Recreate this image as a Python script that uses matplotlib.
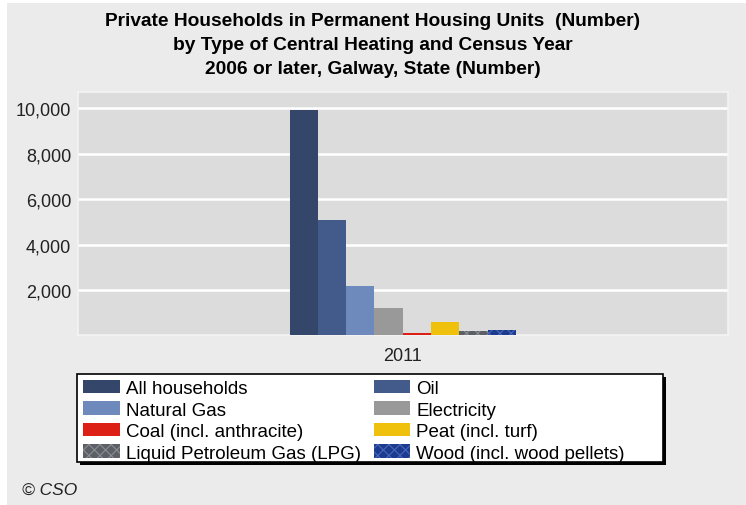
import matplotlib.pyplot as plt
from matplotlib.patches import Rectangle
from matplotlib.ticker import FuncFormatter

plt.rcParams['font.family'] = ['Liberation Sans', 'DejaVu Sans']
plt.rcParams['hatch.linewidth'] = 0.8

# Galway, households by central heating type, census 2011
year = '2011'
heating = ['All households', 'Oil', 'Natural Gas', 'Electricity',
           'Coal (incl. anthracite)', 'Peat (incl. turf)',
           'Liquid Petroleum Gas (LPG)', 'Wood (incl. wood pellets)']
households = [9930, 5100, 2165, 1195, 90, 580, 180, 230]

colours = ['#34466a', '#435b8b', '#6e8abc', '#999999',
           '#dc2015', '#efc10c', '#5c5f66', '#1d3b8e']
hatches = [None, None, None, None, None, None, 'xxx', 'xxx']
hatch_cols = [None, None, None, None, None, None, '#8a8d93', '#4a66b8']
title_lines = ['Private Households in Permanent Housing Units  (Number)',
               'by Type of Central Heating and Census Year',
               '2006 or later, Galway, State (Number)']

W, H = 746, 506
fig = plt.figure(figsize=(W / 100, H / 100), dpi=100, facecolor='white')


def px_rect(x0, y0, x1, y1, **kw):
    # rectangle given in pixels from the top-left corner
    return Rectangle((x0 / W, 1 - y1 / H), (x1 - x0) / W, (y1 - y0) / H,
                     transform=fig.transFigure, **kw)


# grey panel behind everything
fig.patches.append(px_rect(7, 4, W, H, facecolor='#ebebeb', edgecolor='none', zorder=-10))

ax = fig.add_axes([78 / W, 1 - 336.4 / H, 649.5 / W, 243.4 / H])
ax.set_facecolor('#dcdcdc')

w = 28.3 / 649.5
n = len(heating)
bars = []
for i, (name, val) in enumerate(zip(heating, households)):
    b = ax.bar((i - (n - 1) / 2) * w, val, width=w, color=colours[i],
               edgecolor=hatch_cols[i] if hatches[i] else 'none', linewidth=0,
               hatch=hatches[i], label=name, zorder=3)
    bars.append(b)

ax.set_xlim(-0.5, 0.5)
ax.set_ylim(0, 10720)
ax.set_yticks([2000, 4000, 6000, 8000, 10000])
ax.yaxis.set_major_formatter(FuncFormatter(lambda v, p: f'{int(v):,}'))
ax.set_xticks([0])
ax.set_xticklabels([year])
ax.tick_params(axis='both', length=0, labelsize=13, colors='#222222', pad=5)
ax.tick_params(axis='x', pad=8)
ax.grid(axis='y', color='white', linewidth=1.8, zorder=1)
for s in ax.spines.values():
    s.set_color('#f4f4f4')
    s.set_linewidth(1.2)

for k, line in enumerate(title_lines):
    fig.text(373 / W, 1 - (22 + 24 * k) / H, line, ha='center', va='center',
             fontsize=13.8, fontweight='bold')

# legend box with a solid black drop shadow
fig.patches.append(px_rect(80, 378, 666, 466, facecolor='black', edgecolor='none', zorder=5))
fig.patches.append(px_rect(77, 375, 663, 463, facecolor='white', edgecolor='black',
                           linewidth=1.2, zorder=6))

# legend filled row by row
order = [0, 2, 4, 6, 1, 3, 5, 7]
leg = fig.legend(handles=[bars[i] for i in order], ncol=2, loc='upper left',
                 bbox_to_anchor=(77 / W, 1 - 375 / H), fontsize=13.5,
                 frameon=False, handlelength=1.97, handleheight=0.75,
                 handletextpad=0.32, labelspacing=0.22, columnspacing=0.69,
                 borderpad=0.3, borderaxespad=0)
leg.set_zorder(10)

fig.text(22 / W, 1 - 490 / H, '© CSO', fontsize=12.5, style='italic',
         va='center', ha='left', color='#222222')

fig.savefig('out.png', dpi=100, facecolor=fig.get_facecolor())
